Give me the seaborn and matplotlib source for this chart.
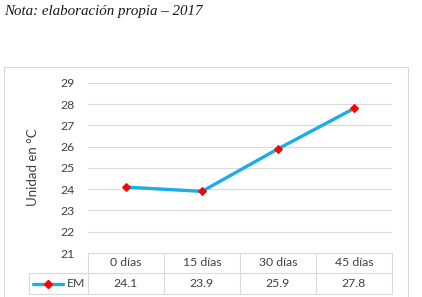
import matplotlib
matplotlib.use("Agg")
import matplotlib.pyplot as plt
import matplotlib.patches as patches
import matplotlib.lines as mlines
import pandas as pd
import seaborn as sns

# datos
dias = ["0 días", "15 días", "30 días", "45 días"]
em = [24.1, 23.9, 25.9, 27.8]
serie = "EM"
nota = "Nota: elaboración propia – 2017"
ylabel = "Unidad en °C"
yticks = [21, 22, 23, 24, 25, 26, 27, 28, 29]

W, H = 422, 297
azul = "#1CADE4"
gris = "#D9D9D9"
texto = "#404040"
fs = 8.8


def fx(px):
    return px / W


def fy(py):
    return 1 - py / H


def main():
    sns.set_style("white")
    plt.rcParams["font.family"] = ["Lato", "DejaVu Sans"]

    fig = plt.figure(figsize=(W / 100, H / 100), dpi=100)

    # nota arriba
    fig.text(fx(4), fy(12), nota, family="Liberation Serif", style="italic",
             fontsize=10.8, va="center", ha="left", color="#1a1a1a")

    # marco del grafico
    fig.patches.append(patches.Rectangle((fx(4), fy(300)), fx(404), fy(67) - fy(300),
                                         transform=fig.transFigure, fill=False,
                                         edgecolor=gris, linewidth=0.8))

    x0, x1, ytop, ybot = 88, 392, 83, 253
    ax = fig.add_axes([fx(x0), fy(ybot), fx(x1 - x0), fy(ytop) - fy(ybot)])
    df = pd.DataFrame({"dia": dias, "valor": em})
    sns.lineplot(data=df, x="dia", y="valor", ax=ax, color=azul, linewidth=2.4,
                 marker="D", markersize=4.5, markerfacecolor="red",
                 markeredgecolor="red", sort=False)
    ax.set_xlim(-0.5, 3.5)
    ax.set_ylim(21, 29)
    ax.set_yticks(yticks)
    ax.set_yticklabels([str(t) for t in yticks], fontsize=fs, color=texto)
    ax.set_xticks([])
    ax.set_xlabel("")
    ax.set_ylabel("")
    ax.tick_params(axis="y", length=0, pad=9.5)
    for s in ax.spines.values():
        s.set_visible(False)
    for t in yticks[1:]:
        ax.axhline(t, color=gris, linewidth=0.8, zorder=0)

    fig.text(fx(33), fy(167), ylabel, rotation=90, fontsize=9.5,
             va="center", ha="center", color=texto)

    # tabla de datos
    r0, r1, r2 = 253, 273, 294
    lx = 29
    colw = (x1 - x0) / len(dias)

    def hline(y, xa, xb):
        fig.lines.append(mlines.Line2D([fx(xa), fx(xb)], [fy(y), fy(y)],
                                       transform=fig.transFigure, color=gris, lw=0.8))

    def vline(x, ya, yb):
        fig.lines.append(mlines.Line2D([fx(x), fx(x)], [fy(ya), fy(yb)],
                                       transform=fig.transFigure, color=gris, lw=0.8))

    hline(r0, x0, x1)
    hline(r1, lx, x1)
    hline(r2, lx, x1)
    vline(lx, r1, r2)
    for i in range(len(dias) + 1):
        vline(x0 + i * colw, r0, r2)
    for i, (d, v) in enumerate(zip(dias, em)):
        cx = x0 + (i + 0.5) * colw
        fig.text(fx(cx), fy((r0 + r1) / 2), d, fontsize=fs, ha="center",
                 va="center", color=texto)
        fig.text(fx(cx), fy((r1 + r2) / 2), f"{v:.1f}", fontsize=fs,
                 ha="center", va="center", color=texto)

    # clave de leyenda
    ym = (r1 + r2) / 2
    fig.lines.append(mlines.Line2D([fx(33), fx(63)], [fy(ym), fy(ym)],
                                   transform=fig.transFigure, color=azul, lw=2.4))
    fig.lines.append(mlines.Line2D([fx(48)], [fy(ym)], transform=fig.transFigure,
                                   marker="D", markersize=4.5, color="red", lw=0))
    fig.text(fx(76), fy(ym), serie, fontsize=fs, ha="center", va="center",
             color=texto)

    fig.savefig("out.png", dpi=100)


if __name__ == "__main__":
    main()
